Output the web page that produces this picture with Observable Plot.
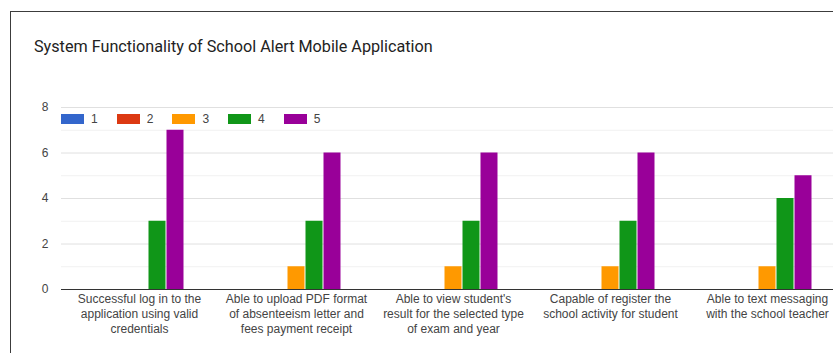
<!DOCTYPE html>
<html>
<head>
<meta charset="utf-8">
<script src="https://cdn.jsdelivr.net/npm/d3@7"></script>
<script src="https://cdn.jsdelivr.net/npm/@observablehq/plot@0.6"></script>
<style>
  html, body { margin: 0; padding: 0; background: #fff; overflow: hidden; }
  #page { position: relative; width: 833px; height: 353px; overflow: hidden; font-family: "Liberation Sans", Arial, sans-serif; }
  #card { position: absolute; left: 10px; top: 11px; width: 900px; height: 400px;
          border-left: 1.5px solid #3c3c3c; border-top: 1.5px solid #3c3c3c; }
  #title { position: absolute; left: 34px; top: 37px; font-family: Roboto, sans-serif; font-size: 16.2px; color: #222; white-space: nowrap; }
  #legend { position: absolute; left: 61px; top: 112px; display: flex; font-size: 12px; color: #444; }
  #legend .item { display: flex; align-items: center; width: 55.7px; height: 14px; }
  #legend .sw { width: 23px; height: 10px; margin-right: 7px; }
  .layer { position: absolute; left: 0; top: 0; }
  .layer svg { max-width: none !important; }
</style>
</head>
<body>
<div id="page">
  <div id="card"></div>
  <div id="title"></div>
  <div id="grid" class="layer"></div>
  <div id="bars" class="layer"></div>
  <div id="legend"></div>
</div>
<script>
const title = "System Functionality of School Alert Mobile Application";

// Survey statements (one group of bars each)
const categories = [
  "Successful log in to the application using valid credentials",
  "Able to upload PDF format of absenteeism letter and fees payment receipt",
  "Able to view student's result for the selected type of exam and year",
  "Capable of register the school activity for student",
  "Able to text messaging with the school teacher"
];
// Wrapped axis labels for the statements
const tickLabels = [
  "Successful log in to the\napplication using valid\ncredentials",
  "Able to upload PDF format\nof absenteeism letter and\nfees payment receipt",
  "Able to view student's\nresult for the selected type\nof exam and year",
  "Capable of register the\nschool activity for student",
  "Able to text messaging\nwith the school teacher"
];

// Rating scale and response counts per rating
const ratings = ["1", "2", "3", "4", "5"];
const rating1 = [0, 0, 0, 0, 0];
const rating2 = [0, 0, 0, 0, 0];
const rating3 = [0, 1, 1, 1, 1];
const rating4 = [3, 3, 3, 3, 4];
const rating5 = [7, 6, 6, 6, 5];
const colors = ["#3366cc", "#dc3912", "#ff9900", "#109618", "#990099"];

const yMajorTicks = [0, 2, 4, 6, 8];
const yMinorTicks = [1, 3, 5, 7];

const counts = [rating1, rating2, rating3, rating4, rating5];
const rows = [];
categories.forEach((c, i) => {
  ratings.forEach((r, j) => rows.push({category: c, rating: r, count: counts[j][i]}));
});

const W = 846, H = 353;
const frame = {width: W, height: H, marginTop: 107, marginBottom: 64, marginLeft: 61, marginRight: 0};
const svgStyle = {fontFamily: "'Liberation Sans', Arial, sans-serif", color: "#444",
                  background: "transparent", overflow: "visible", maxWidth: "none"};

d3.select("#title").text(title);

// Background layer: gridlines, y axis, baseline
const grid = Plot.plot({
  ...frame,
  style: svgStyle,
  y: {domain: [0, 8]},
  marks: [
    Plot.ruleY(yMinorTicks, {stroke: "#f1f1f1", strokeWidth: 1}),
    Plot.ruleY(yMajorTicks, {stroke: "#e0e0e0", strokeWidth: 1}),
    Plot.axisY({ticks: yMajorTicks, tickSize: 0, tickPadding: 13, fontSize: 12, label: null, fill: "#444"}),
    Plot.ruleY([0], {stroke: "#333", strokeWidth: 1})
  ]
});
document.getElementById("grid").append(grid);

// Foreground layer: grouped bars with the statement labels
const labelOf = new Map(categories.map((c, i) => [c, tickLabels[i]]));
const bars = Plot.plot({
  ...frame,
  style: svgStyle,
  fx: {domain: categories, paddingInner: 0.4, paddingOuter: 0.2, label: null},
  x: {domain: ratings, padding: 0, axis: null},
  y: {domain: [0, 8], axis: null},
  color: {domain: ratings, range: colors},
  marks: [
    Plot.barY(rows.filter(d => d.count > 0), {fx: "category", x: "rating", y: "count", fill: "rating", insetLeft: 0.5, insetRight: 0.5}),
    Plot.axisFx({anchor: "bottom", tickSize: 0, tickPadding: 3, fontSize: 12, lineHeight: 1.25,
                 label: null, fill: "#444", tickFormat: d => labelOf.get(d)}),
    Plot.ruleY([0], {stroke: "#333", strokeWidth: 1})
  ]
});
document.getElementById("bars").append(bars);

// Legend row
const items = d3.select("#legend").selectAll(".item").data(ratings).join("div").attr("class", "item");
items.append("div").attr("class", "sw").style("background", (d, i) => colors[i]);
items.append("span").text(d => d);
</script>
</body>
</html>
